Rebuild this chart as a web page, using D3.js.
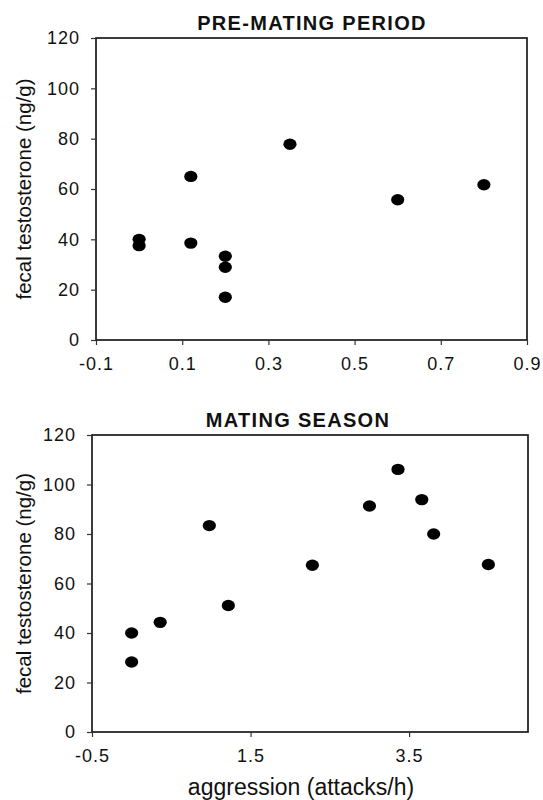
<!DOCTYPE html>
<html>
<head>
<meta charset="utf-8">
<script src="https://cdn.jsdelivr.net/npm/d3@7"></script>
<style>
  body { margin: 0; background: #fff; }
  svg { display: block; font-family: "Liberation Sans", Arial, sans-serif; }
</style>
</head>
<body>
<svg width="543" height="800"></svg>
<script>
var svg = d3.select('svg');

// pre-mating period data
var preX = [0, 0, 0.12, 0.12, 0.2, 0.2, 0.2, 0.35, 0.6, 0.8];
var preY = [40, 37.5, 65, 38.5, 33.3, 28.9, 17, 77.8, 55.7, 61.7];
var preTicks = [-0.1, 0.1, 0.3, 0.5, 0.7, 0.9];

// mating season data
var matX = [0, 0, 0.36, 0.98, 1.22, 2.28, 3.0, 3.36, 3.66, 3.81, 4.5];
var matY = [40, 28.3, 44.3, 83.4, 51.1, 67.4, 91.3, 106.1, 93.9, 80, 67.7];
var matTicks = [-0.5, 1.5, 3.5];

var yTicks = [0, 20, 40, 60, 80, 100, 120];

var panel = (opt) => {
  var xScale = d3.scaleLinear().domain(opt.xDomain).range([opt.left, opt.right]);
  var yScale = d3.scaleLinear().domain([0, 120]).range([opt.bottom, opt.top]);

  var g = svg.append('g');

  // frame
  g.append('rect')
    .attr('x', opt.left).attr('y', opt.top)
    .attr('width', opt.right - opt.left).attr('height', opt.bottom - opt.top)
    .attr('fill', 'none').attr('stroke', '#1a1a1a').attr('stroke-width', 1.7);

  // x axis (hyphen minus like the original)
  var xAxis = d3.axisBottom(xScale).tickValues(opt.xTicks).tickSize(5).tickPadding(12)
    .tickFormat(d => d.toFixed(1));
  var gx = g.append('g').attr('transform', 'translate(0,' + opt.bottom + ')').call(xAxis);
  gx.select('.domain').remove();

  // y axis
  var yAxis = d3.axisLeft(yScale).tickValues(yTicks).tickSize(5).tickPadding(11);
  var gy = g.append('g').attr('transform', 'translate(' + opt.left + ',0)').call(yAxis);
  gy.select('.domain').remove();

  g.selectAll('.tick line').attr('stroke', '#333').attr('stroke-width', 1.2);
  g.selectAll('.tick text').attr('fill', '#111')
    .style('font-size', '18px').style('letter-spacing', '1px');

  // title
  g.append('text')
    .attr('x', opt.titleX).attr('y', opt.top - 8)
    .attr('text-anchor', 'middle').style('font-weight', 'bold').style('font-size', '20px')
    .style('letter-spacing', '1.3px').attr('fill', '#111').text(opt.title);

  // y label
  g.append('text')
    .attr('transform', 'translate(31,' + ((opt.top + opt.bottom) / 2) + ') rotate(-90)')
    .attr('text-anchor', 'middle').style('font-size', '20.5px').attr('fill', '#111')
    .text('fecal testosterone (ng/g)');

  // points
  g.selectAll('ellipse').data(opt.xs).enter().append('ellipse')
    .attr('cx', (d, i) => xScale(d))
    .attr('cy', (d, i) => yScale(opt.ys[i]))
    .attr('rx', 6.6).attr('ry', 5.7)
    .attr('fill', '#000');
};

panel({title: 'PRE-MATING PERIOD', xs: preX, ys: preY, xDomain: [-0.1, 0.9], xTicks: preTicks,
       left: 96, right: 527, top: 38, bottom: 340, titleX: 312});
panel({title: 'MATING SEASON', xs: matX, ys: matY, xDomain: [-0.5, 5.0], xTicks: matTicks,
       left: 92, right: 528, top: 435, bottom: 732, titleX: 298});

// x axis title
svg.append('text')
  .attr('x', 301).attr('y', 795)
  .attr('text-anchor', 'middle').style('font-size', '23px').attr('fill', '#111')
  .text('aggression (attacks/h)');
</script>
</body>
</html>
